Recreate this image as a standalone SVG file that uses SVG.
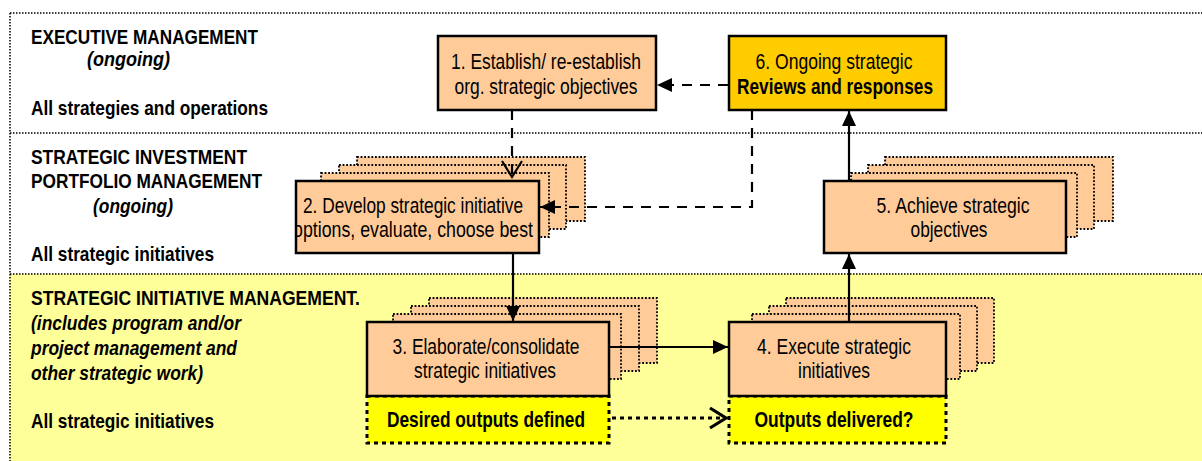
<svg xmlns="http://www.w3.org/2000/svg" width="1202" height="461" viewBox="0 0 1202 461">
  <style>
    text { font-family: "Liberation Sans", Arial, sans-serif; fill: #000; }
    .lbl { font-size: 21px; font-weight: bold; }
    .lbli { font-size: 21px; font-weight: bold; font-style: italic; }
    .box { font-size: 21.5px; text-anchor: middle; }
    .boxb { font-size: 21.5px; font-weight: bold; text-anchor: middle; }
    .band { fill: none; stroke: #000; stroke-width: 1.5; stroke-dasharray: 1.5 1.5; }
    .main { fill: #FFCC99; stroke: #000; stroke-width: 2.5; }
    .back { fill: #FFCC99; stroke: #000; stroke-width: 1.8; stroke-dasharray: 1.8 1.8; }
    .out { fill: #FFFF00; stroke: #000; stroke-width: 3; stroke-dasharray: 4 4; }
    .solid { fill: none; stroke: #000; stroke-width: 2.2; }
    .dash { fill: none; stroke: #000; stroke-width: 2.2; stroke-dasharray: 10 8; }
    .dots { fill: none; stroke: #000; stroke-width: 3; stroke-dasharray: 4 4; }
  </style>
  <defs>
    <marker id="arrow" markerUnits="userSpaceOnUse" markerWidth="16" markerHeight="14" refX="15" refY="7" orient="auto">
      <path d="M0,0 L15,7 L0,14 Z" fill="#000"/>
    </marker>
    <marker id="vee" markerUnits="userSpaceOnUse" markerWidth="20" markerHeight="24" refX="17" refY="12" orient="auto">
      <path d="M1,2 L17,12 L1,22" fill="none" stroke="#000" stroke-width="2.2"/>
    </marker>
    <marker id="veeBold" markerUnits="userSpaceOnUse" markerWidth="22" markerHeight="24" refX="18" refY="12" orient="auto">
      <path d="M2,2 L18,12 L2,22" fill="none" stroke="#000" stroke-width="3.2"/>
    </marker>
    <clipPath id="clip2">
      <rect x="297" y="182" width="241" height="70"/>
    </clipPath>
  </defs>

  <!-- swim lanes -->
  <g id="lanes">
    <rect x="10" y="274" width="1192" height="187" fill="#FFFF99"/>
    <line class="band" x1="10" y1="13" x2="1202" y2="13"/>
    <line class="band" x1="10" y1="133" x2="1202" y2="133"/>
    <line class="band" x1="10" y1="274" x2="1202" y2="274"/>
    <line class="band" x1="10" y1="13" x2="10" y2="461"/>
  </g>

  <g id="lane-labels">
    <text class="lbl" x="31" y="44" textLength="227" lengthAdjust="spacingAndGlyphs">EXECUTIVE MANAGEMENT</text>
    <text class="lbli" x="87" y="66" textLength="83" lengthAdjust="spacingAndGlyphs">(ongoing)</text>
    <text class="lbl" x="31" y="115" textLength="237" lengthAdjust="spacingAndGlyphs">All strategies and operations</text>

    <text class="lbl" x="31" y="164" textLength="216" lengthAdjust="spacingAndGlyphs">STRATEGIC INVESTMENT</text>
    <text class="lbl" x="31" y="188" textLength="231" lengthAdjust="spacingAndGlyphs">PORTFOLIO MANAGEMENT</text>
    <text class="lbli" x="93" y="213" textLength="80" lengthAdjust="spacingAndGlyphs">(ongoing)</text>
    <text class="lbl" x="31" y="261" textLength="183" lengthAdjust="spacingAndGlyphs">All strategic initiatives</text>

    <text class="lbl" x="31" y="305" textLength="329" lengthAdjust="spacingAndGlyphs">STRATEGIC INITIATIVE MANAGEMENT.</text>
    <text class="lbli" x="31" y="330" textLength="210" lengthAdjust="spacingAndGlyphs">(includes program and/or</text>
    <text class="lbli" x="31" y="355" textLength="206" lengthAdjust="spacingAndGlyphs">project management and</text>
    <text class="lbli" x="31" y="380" textLength="172" lengthAdjust="spacingAndGlyphs">other strategic work)</text>
    <text class="lbl" x="31" y="428" textLength="183" lengthAdjust="spacingAndGlyphs">All strategic initiatives</text>
  </g>

  <!-- 1. establish objectives -->
  <g id="node1">
    <rect class="main" x="438" y="36" width="218" height="74"/>
    <text class="box" x="546" y="69" textLength="190" lengthAdjust="spacingAndGlyphs">1. Establish/ re-establish</text>
    <text class="box" x="546" y="94" textLength="183" lengthAdjust="spacingAndGlyphs">org. strategic objectives</text>
  </g>

  <!-- 6. reviews -->
  <g id="node6">
    <rect x="729" y="36" width="217" height="74" fill="#FFCC00" stroke="#000" stroke-width="2.5"/>
    <text class="box" x="834" y="69" textLength="157" lengthAdjust="spacingAndGlyphs">6. Ongoing strategic</text>
    <text class="boxb" x="835" y="94" textLength="196" lengthAdjust="spacingAndGlyphs">Reviews and responses</text>
  </g>

  <!-- 2. develop options -->
  <g id="node2">
    <rect class="back" x="357" y="157" width="228" height="64"/>
    <rect class="back" x="339" y="165" width="227" height="64"/>
    <rect class="back" x="321" y="173" width="228" height="64"/>
    <rect class="main" x="296" y="181" width="243" height="72"/>
    <g clip-path="url(#clip2)">
      <text class="box" x="413" y="213" textLength="220" lengthAdjust="spacingAndGlyphs">2. Develop strategic initiative</text>
      <text class="box" x="413" y="237" textLength="240" lengthAdjust="spacingAndGlyphs">options, evaluate, choose best</text>
    </g>
  </g>

  <!-- 5. achieve objectives -->
  <g id="node5">
    <rect class="back" x="885" y="157" width="228" height="64"/>
    <rect class="back" x="868" y="165" width="226" height="64"/>
    <rect class="back" x="851" y="173" width="226" height="64"/>
    <rect class="main" x="824" y="181" width="242" height="72"/>
    <text class="box" x="953" y="213" textLength="153" lengthAdjust="spacingAndGlyphs">5. Achieve strategic</text>
    <text class="box" x="949" y="237" textLength="77" lengthAdjust="spacingAndGlyphs">objectives</text>
  </g>

  <!-- 3. elaborate initiatives -->
  <g id="node3">
    <rect class="back" x="429" y="298" width="228" height="65"/>
    <rect class="back" x="411" y="306" width="228" height="65"/>
    <rect class="back" x="393" y="314" width="228" height="65"/>
    <rect class="out" x="367" y="396" width="242" height="47"/>
    <rect class="main" x="367" y="322" width="242" height="74"/>
    <text class="box" x="486" y="354" textLength="187" lengthAdjust="spacingAndGlyphs">3. Elaborate/consolidate</text>
    <text class="box" x="485" y="378" textLength="142" lengthAdjust="spacingAndGlyphs">strategic initiatives</text>
    <text class="boxb" x="486" y="427" textLength="198" lengthAdjust="spacingAndGlyphs">Desired outputs defined</text>
  </g>

  <!-- 4. execute initiatives -->
  <g id="node4">
    <rect class="back" x="786" y="298" width="208" height="65"/>
    <rect class="back" x="769" y="306" width="208" height="65"/>
    <rect class="back" x="752" y="314" width="208" height="65"/>
    <rect class="out" x="729" y="396" width="217" height="47"/>
    <rect class="main" x="729" y="322" width="217" height="74"/>
    <text class="box" x="834" y="354" textLength="154" lengthAdjust="spacingAndGlyphs">4. Execute strategic</text>
    <text class="box" x="834" y="378" textLength="72" lengthAdjust="spacingAndGlyphs">initiatives</text>
    <text class="boxb" x="834" y="427" textLength="159" lengthAdjust="spacingAndGlyphs">Outputs delivered?</text>
  </g>

  <!-- flows between steps -->
  <g id="connectors">
    <line class="dash" x1="728" y1="85" x2="657" y2="85" marker-end="url(#arrow)"/>
    <line class="dash" x1="512" y1="110" x2="512" y2="177" marker-end="url(#vee)"/>
    <polyline class="dash" points="752,110 752,207 540,207" marker-end="url(#arrow)"/>
    <line class="solid" x1="513" y1="253" x2="513" y2="321" marker-end="url(#arrow)"/>
    <line class="solid" x1="609" y1="347" x2="728" y2="347" marker-end="url(#arrow)"/>
    <line class="solid" x1="849" y1="322" x2="849" y2="254" marker-end="url(#arrow)"/>
    <line class="solid" x1="849" y1="181" x2="849" y2="111" marker-end="url(#arrow)"/>
    <line class="dots" x1="612" y1="418" x2="726" y2="418" marker-end="url(#veeBold)"/>
  </g>
</svg>
